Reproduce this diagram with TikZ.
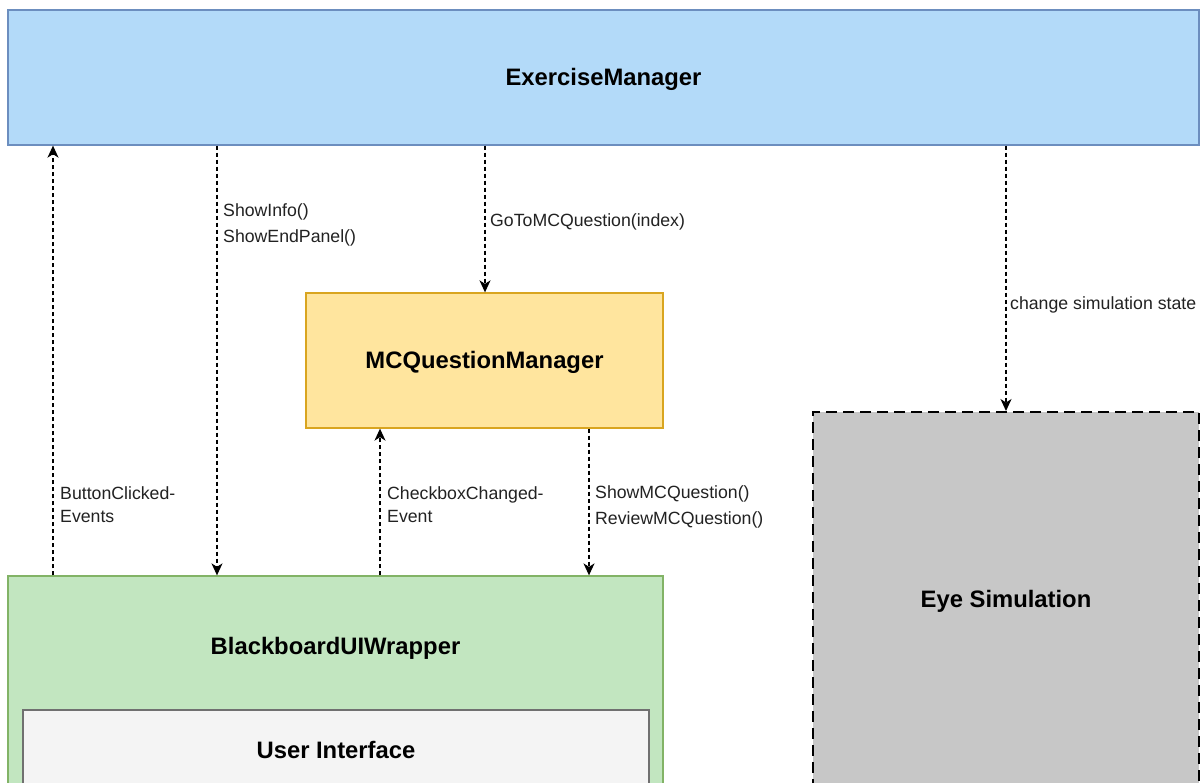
\documentclass[tikz,border=0pt]{standalone}
\usepackage{fontspec}
\setmainfont{Liberation Sans}
\usetikzlibrary{arrows.meta,calc}
\definecolor{emfill}{HTML}{B3DAF9}
\definecolor{emdraw}{HTML}{6C8EBF}
\definecolor{mcfill}{HTML}{FFE59E}
\definecolor{mcdraw}{HTML}{D9A520}
\definecolor{bwfill}{HTML}{C2E6C0}
\definecolor{bwdraw}{HTML}{82B366}
\definecolor{uifill}{HTML}{F4F4F4}
\definecolor{uidraw}{HTML}{707070}
\definecolor{esfill}{HTML}{C7C7C7}
\definecolor{lbltext}{HTML}{222222}
\tikzset{
  block/.style={draw, line width=1.3pt, inner sep=0pt, font=\fontsize{23.8}{28}\selectfont\bfseries},
  title/.style={inner sep=0pt, font=\fontsize{23.8}{28}\selectfont\bfseries},
  flow/.style={draw=black, line width=1.4pt, dash pattern=on 4pt off 3pt,
    -{Stealth[length=12pt,width=11pt,inset=3.5pt]}},
  lbl/.style={anchor=west, inner sep=0pt, align=left, text=lbltext, font=\fontsize{17.7}{21}\selectfont},
}
\begin{document}
\begin{tikzpicture}[x=1pt,y=-1pt]
\useasboundingbox (0,0) rectangle (1201,782);
\clip (0,0) rectangle (1201,782);
\fill[white] (0,0) rectangle (1201,782);

% components
\node[block, fill=emfill, draw=emdraw, minimum width=1191pt, minimum height=135pt]
  (em) at (603.5,77.5) {};
\node[title] (emlabel) at (603.5,79) {ExerciseManager};
\node[block, fill=mcfill, draw=mcdraw, minimum width=357pt, minimum height=135pt]
  (mc) at (484.5,360.5) {};
\node[title] (mclabel) at (484.5,362) {MCQuestionManager};
\node[block, fill=bwfill, draw=bwdraw, minimum width=655pt, minimum height=260pt]
  (bw) at (335.5,706) {};
\node[title] (bwlabel) at (335.5,648) {BlackboardUIWrapper};
\node[block, fill=uifill, draw=uidraw, line width=1.5pt, minimum width=626pt, minimum height=120pt]
  (ui) at (336,770) {};
\node[title] (uilabel) at (336,750) {User Interface};
\node[block, fill=esfill, draw=black, line width=2pt, dash pattern=on 11pt off 6pt,
  minimum width=386pt, minimum height=374pt] (es) at (1006,599) {};
\node[title] (eslabel) at (1006,601) {Eye Simulation};

% messages between components
\draw[flow] (bw.north -| 53,0) -- (em.south -| 53,0);
\draw[flow] (em.south -| 217,0) -- (bw.north -| 217,0);
\draw[flow] (em.south -| 485,0) -- (mc.north -| 485,0);
\draw[flow] (bw.north -| 380,0) -- (mc.south -| 380,0);
\draw[flow] (mc.south -| 589,0) -- (bw.north -| 589,0);
\draw[flow] (em.south -| es.north) -- (es.north);

% message labels
\node[lbl, font=\fontsize{17.7}{23}\selectfont] (l1) at (60,505) {ButtonClicked-\\Events};
\node[lbl, font=\fontsize{17.7}{26}\selectfont] (l2) at (223,225) {ShowInfo()\\ShowEndPanel()};
\node[lbl] (l3) at (490,222) {GoToMCQuestion(index)};
\node[lbl, font=\fontsize{17.7}{23}\selectfont] (l4) at (387,505) {CheckboxChanged-\\Event};
\node[lbl, font=\fontsize{17.7}{26}\selectfont] (l5) at (595,507) {ShowMCQuestion()\\ReviewMCQuestion()};
\node[lbl] (l6) at (1010,305) {change simulation state};
\end{tikzpicture}
\end{document}
